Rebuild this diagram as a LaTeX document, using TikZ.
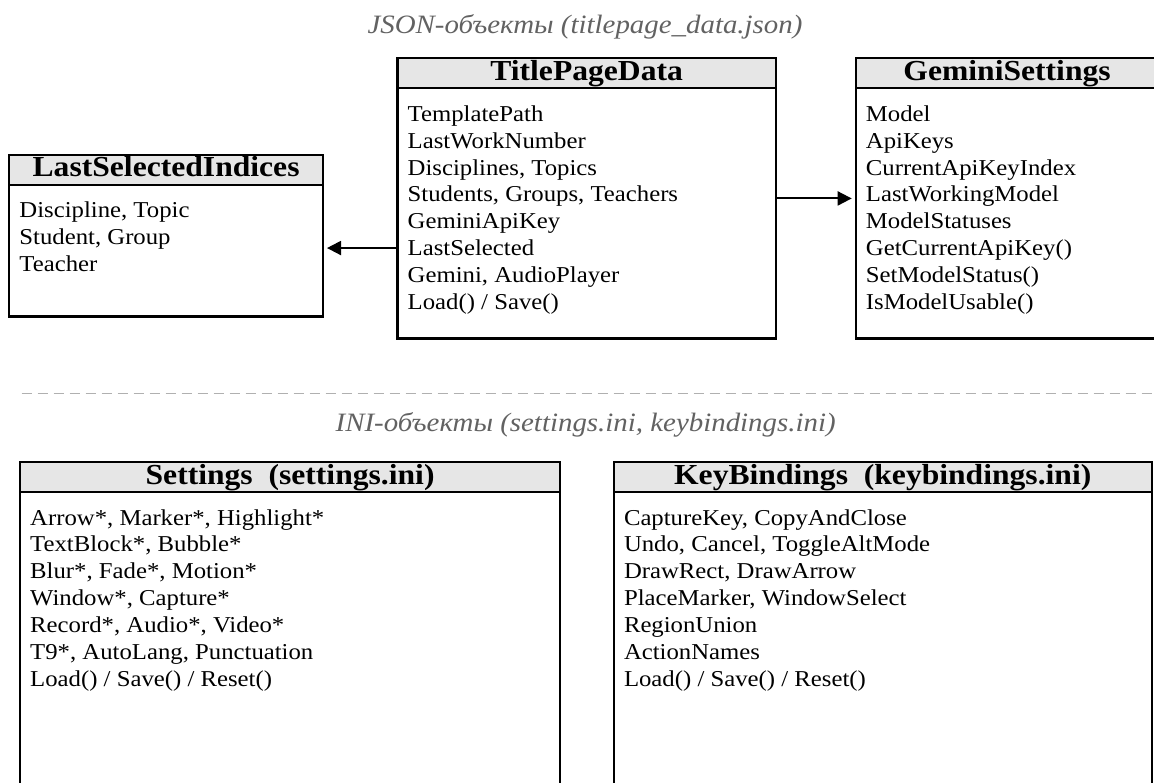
\documentclass[tikz,border=0pt]{standalone}
\usepackage{fontspec}
\setmainfont{Liberation Serif}[FakeStretch=1.09]
\usetikzlibrary{arrows.meta}

\definecolor{hdrfill}{HTML}{E6E6E6}
\definecolor{captiongray}{HTML}{626262}
\definecolor{sepgray}{HTML}{B0B0B0}

\tikzset{
  boxframe/.style={rectangle, draw=black, line width=2.4pt, fill=white,
    inner sep=0pt, outer sep=0pt, anchor=north west},
  boxhead/.style={rectangle, draw=black, line width=2.4pt, fill=hdrfill,
    inner sep=0pt, outer sep=0pt, anchor=north west, minimum height=30pt},
  boxtitle/.style={anchor=base, inner sep=0pt,
    font=\fontsize{29}{32}\selectfont\bfseries},
  field/.style={anchor=base west, inner sep=0pt,
    font=\fontsize{22.7}{27}\selectfont},
  caption/.style={anchor=base, inner sep=0pt, text=captiongray,
    font=\fontsize{26.5}{30}\selectfont\itshape},
  link/.style={line width=2pt, -{Triangle[length=14pt,width=14pt]},
    shorten >=4pt},
  separator/.style={draw=sepgray, line width=1.5pt,
    dash pattern=on 10pt off 6pt},
}

% class box: name, left, top, width, height, title
\newcommand\classbox[6]{%
  \node[boxframe, minimum width=#4pt, minimum height=#5pt] (#1) at (#2,#3) {};
  \node[boxhead, minimum width=#4pt] (#1-head) at (#2,#3) {};
  \node[boxtitle] (#1-title) at ({#2+#4/2},{#3+22}) {#6};
}
% member lines: name prefix, left, top, list of lines
\newcommand\memberlines[4]{%
  \foreach \t [count=\i] in {#4} {
    \node[field] (#1-\i) at ({#2+10},{#3+63+(\i-1)*26.9}) {\t};
  }
}

\begin{document}
\begin{tikzpicture}[x=1pt, y=-1pt]
  \fill[white] (0,0) rectangle (1154,783);
  \useasboundingbox (0,0) rectangle (1154,783);
  \clip (0,0) rectangle (1154,783);

  % JSON part
  \node[caption] (jsoncap) at (585,33.3) {JSON-объекты (titlepage\_data.json)};

  \classbox{lsi}{9.2}{155}{313.8}{161.7}{LastSelectedIndices}
  \memberlines{lsi}{9.2}{155}{{Discipline, Topic}, {Student, Group}, Teacher}

  \classbox{tpd}{397.5}{58.3}{378.3}{280.3}{TitlePageData}
  \memberlines{tpd}{397.5}{58.3}{TemplatePath, LastWorkNumber,
    {Disciplines, Topics}, {Students, Groups, Teachers}, GeminiApiKey,
    LastSelected, {Gemini, AudioPlayer}, Load() / Save()}

  \classbox{gem}{855.7}{58.3}{302.7}{280.3}{GeminiSettings}
  \memberlines{gem}{855.7}{58.3}{Model, ApiKeys, CurrentApiKeyIndex,
    LastWorkingModel, ModelStatuses, GetCurrentApiKey(), SetModelStatus(),
    IsModelUsable()}

  \draw[link] (tpd.east) -- (tpd.east -| gem.west);
  \draw[link] (tpd-6.west -| tpd.west) -- (tpd-6.west -| lsi.east);

  % separator between the two groups
  \coordinate (sepstart) at (21.7,393.3);
  \coordinate (sepend) at (1160,393.3);
  \draw[separator] (sepstart) -- (sepend);

  % INI part
  \node[caption] (inicap) at (585.7,431.7) {INI-объекты (settings.ini, keybindings.ini)};

  \classbox{set}{20}{462}{540.2}{340}{Settings~~(settings.ini)}
  \memberlines{set}{20}{462}{{Arrow*, Marker*, Highlight*},
    {TextBlock*, Bubble*}, {Blur*, Fade*, Motion*}, {Window*, Capture*},
    {Record*, Audio*, Video*}, {T9*, AutoLang, Punctuation},
    Load() / Save() / Reset()}

  \classbox{kb}{613.8}{462}{537.9}{340}{KeyBindings~~(keybindings.ini)}
  \memberlines{kb}{613.8}{462}{{CaptureKey, CopyAndClose},
    {Undo, Cancel, ToggleAltMode}, {DrawRect, DrawArrow},
    {PlaceMarker, WindowSelect}, RegionUnion, ActionNames,
    Load() / Save() / Reset()}
\end{tikzpicture}
\end{document}
